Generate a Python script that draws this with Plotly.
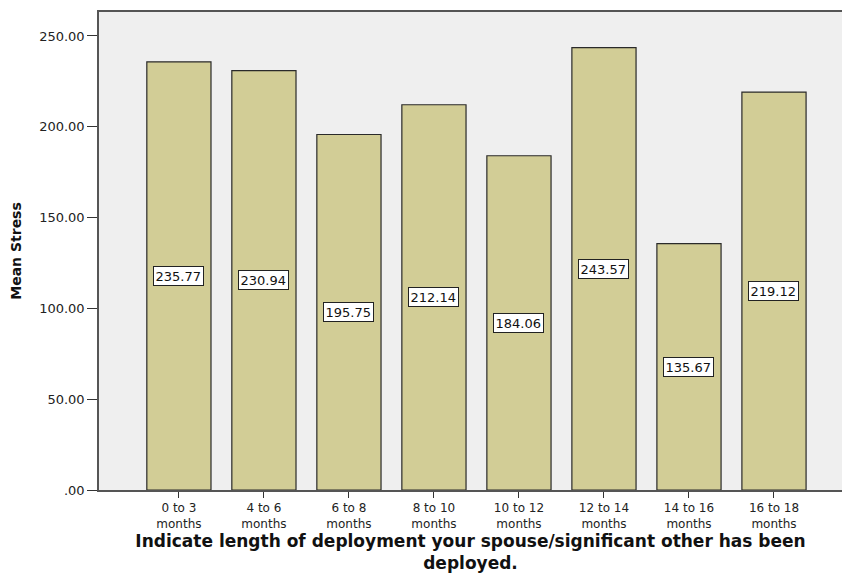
import plotly.graph_objects as go

categories = ["0 to 3<br>months", "4 to 6<br>months", "6 to 8<br>months", "8 to 10<br>months",
              "10 to 12<br>months", "12 to 14<br>months", "14 to 16<br>months", "16 to 18<br>months"]
values = [235.77, 230.94, 195.75, 212.14, 184.06, 243.57, 135.67, 219.12]
y_ticks = [0, 50, 100, 150, 200, 250]
y_tick_labels = [".00", "50.00", "100.00", "150.00", "200.00", "250.00"]

FONT = "DejaVu Sans, Verdana, Arial"

xs = list(range(len(categories)))
fig = go.Figure()
fig.add_trace(go.Bar(
    x=xs, y=values, width=0.755,
    marker=dict(color="#D2CD96", line=dict(color="#2a2a2a", width=1.2)),
    hoverinfo="skip",
))

for x, v in zip(xs, values):
    fig.add_annotation(
        x=x, y=v / 2, text=f"{v:.2f}", showarrow=False,
        font=dict(family=FONT, size=13, color="#111111"),
        bgcolor="white", bordercolor="#222222", borderwidth=1, borderpad=1.5,
    )

fig.update_layout(
    width=842, height=573,
    margin=dict(l=99, r=0, t=12, b=83),
    paper_bgcolor="white", plot_bgcolor="#EFEFEF",
    showlegend=False,
    font=dict(family=FONT, size=12, color="#222222"),
)
fig.update_xaxes(
    range=[-0.94, 7.8], tickmode="array", tickvals=xs, ticktext=categories,
    showline=True, linecolor="#555555", linewidth=1.5, mirror=True,
    ticks="outside", ticklen=6, tickcolor="#333333", showgrid=False, zeroline=False,
    tickfont=dict(family=FONT, size=12, color="#222222"),
    title=dict(text="<b>Indicate length of deployment your spouse/significant other has been<br>deployed.</b>",
               font=dict(family=FONT, size=17, color="#111111"), standoff=6),
)
fig.update_yaxes(
    range=[0, 263.2], tickmode="array", tickvals=y_ticks, ticktext=y_tick_labels,
    showline=True, linecolor="#555555", linewidth=1.5,
    ticks="outside", ticklen=10, tickcolor="#333333", showgrid=False, zeroline=False,
    tickfont=dict(family=FONT, size=13, color="#222222"),
    title=dict(text="<b>Mean Stress</b>", font=dict(family=FONT, size=14, color="#111111"), standoff=14),
)

fig.write_html("out.html", config={"displayModeBar": False},
               post_script="document.body.style.margin='0px';")
